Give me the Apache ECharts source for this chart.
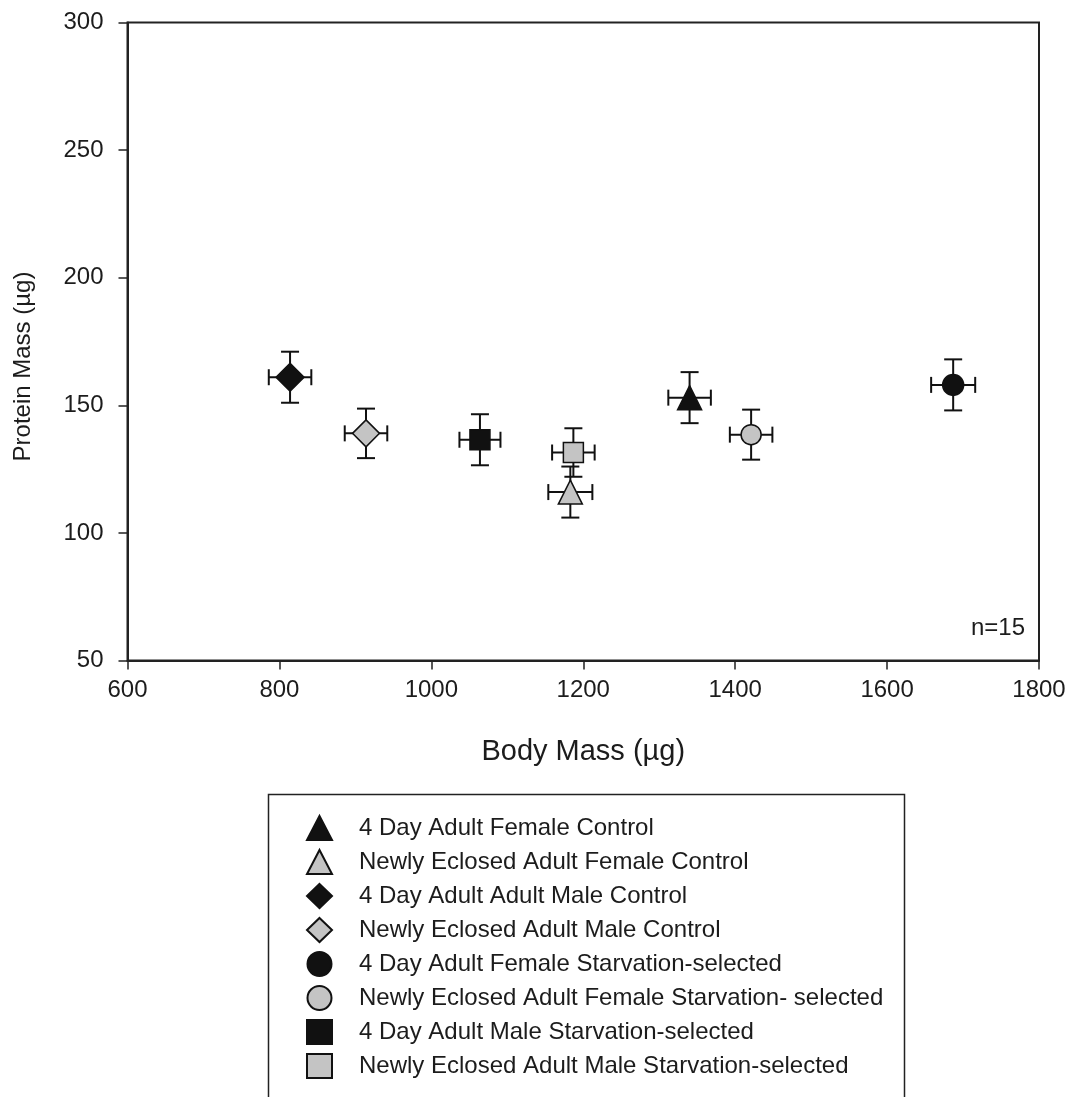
<!DOCTYPE html>
<html>
<head>
<meta charset="utf-8">
<title>Protein Mass vs Body Mass</title>
<script src="https://cdn.jsdelivr.net/npm/echarts@6/dist/echarts.min.js"></script>
<style>
  html, body { margin: 0; padding: 0; background: #fff; }
  #chart { width: 1073px; height: 1097px; }
</style>
</head>
<body>
<div id="chart"></div>
<script>
// Group labels (legend order)
const groupNames = [
  '4 Day Adult Female Control',
  'Newly Eclosed Adult Female Control',
  '4 Day Adult Adult Male Control',
  'Newly Eclosed Adult Male Control',
  '4 Day Adult Female Starvation-selected',
  'Newly Eclosed Adult Female Starvation- selected',
  '4 Day Adult Male Starvation-selected',
  'Newly Eclosed Adult Male Starvation-selected'
];

// Means and error (± values) per group, in µg
const bodyMass       = [1340, 1183,  814,  914, 1687, 1421, 1064, 1187];
const bodyMassErr    = [  28,   29,   28,   28,   29,   28,   27,   28];
const proteinMass    = [ 153,  116,  161,  139,  158,  138.5, 136.5, 131.5];
const proteinMassErr = [  10,   10,   10,  9.7,   10,   9.8,   10,   9.5];

// Axis ticks
const xTicks = [600, 800, 1000, 1200, 1400, 1600, 1800];
const yTicks = [50, 100, 150, 200, 250, 300];

// Marker look for each group
const BLACK = '#111111';
const GREY = '#c4c4c4';
const markerStyle = [
  { symbol: 'triangle', size: 24, fill: BLACK },
  { symbol: 'triangle', size: 24, fill: GREY },
  { symbol: 'diamond',  size: 28, fill: BLACK },
  { symbol: 'diamond',  size: 27, fill: GREY },
  { symbol: 'circle',   size: 21, fill: BLACK },
  { symbol: 'circle',   size: 20, fill: GREY },
  { symbol: 'rect',     size: 20, fill: BLACK },
  { symbol: 'rect',     size: 20, fill: GREY }
];

const FONT = '"Liberation Sans", Arial, sans-serif';
const TEXT = '#1c1c1c';

function errorBars(params, api) {
  const x = api.value(0), y = api.value(1), ex = api.value(2), ey = api.value(3);
  const left = api.coord([x - ex, y]);
  const right = api.coord([x + ex, y]);
  const top = api.coord([x, y + ey]);
  const bottom = api.coord([x, y - ey]);
  const capV = 9;   // half length of caps on the vertical bar
  const capH = 8;   // half length of caps on the horizontal bar
  const st = { stroke: '#111', lineWidth: 2, fill: null };
  const line = (x1, y1, x2, y2) => ({ type: 'line', shape: { x1, y1, x2, y2 }, style: st });
  return {
    type: 'group',
    children: [
      line(left[0], left[1], right[0], right[1]),
      line(top[0], top[1], bottom[0], bottom[1]),
      line(top[0] - capV, top[1], top[0] + capV, top[1]),
      line(bottom[0] - capV, bottom[1], bottom[0] + capV, bottom[1]),
      line(left[0], left[1] - capH, left[0], left[1] + capH),
      line(right[0], right[1] - capH, right[0], right[1] + capH)
    ]
  };
}

const series = [];
groupNames.forEach((name, i) => {
  series.push({
    name: name + ' (error)',
    type: 'custom',
    renderItem: errorBars,
    data: [[bodyMass[i], proteinMass[i], bodyMassErr[i], proteinMassErr[i]]],
    z: 2,
    silent: true
  });
  series.push({
    name: name,
    type: 'scatter',
    symbol: markerStyle[i].symbol,
    symbolSize: markerStyle[i].size,
    data: [[bodyMass[i], proteinMass[i]]],
    itemStyle: { color: markerStyle[i].fill, borderColor: '#111', borderWidth: 1.5, opacity: 1 },
    z: 3
  });
});

const chart = echarts.init(document.getElementById('chart'), null, { renderer: 'canvas' });
chart.setOption({
  animation: false,
  backgroundColor: '#ffffff',
  grid: {
    left: 127.5, right: 34, top: 22.5, bottom: 436.5,
    show: true, borderColor: '#222', borderWidth: 2, backgroundColor: 'transparent'
  },
  xAxis: {
    type: 'value',
    min: xTicks[0], max: xTicks[xTicks.length - 1], interval: 200,
    name: 'Body Mass (µg)',
    nameLocation: 'middle',
    nameGap: 77,
    nameTextStyle: { fontFamily: FONT, fontSize: 29, color: TEXT },
    axisLine: { show: true, onZero: false, lineStyle: { color: '#222', width: 2 } },
    axisTick: { show: true, inside: false, length: 9, lineStyle: { color: '#222', width: 1.5 } },
    axisLabel: { margin: 18, fontFamily: FONT, fontSize: 24, color: TEXT, formatter: v => String(v) },
    splitLine: { show: false }
  },
  yAxis: {
    type: 'value',
    min: yTicks[0], max: yTicks[yTicks.length - 1], interval: 50,
    name: 'Protein Mass (µg)',
    nameLocation: 'middle',
    nameGap: 92,
    nameTextStyle: { fontFamily: FONT, fontSize: 24, color: TEXT, padding: [0, 50, 0, 0] },
    axisLine: { show: true, onZero: false, lineStyle: { color: '#222', width: 2 } },
    axisTick: { show: true, inside: false, length: 9, lineStyle: { color: '#222', width: 1.5 } },
    axisLabel: { margin: 24, fontFamily: FONT, fontSize: 24, color: TEXT },
    splitLine: { show: false }
  },
  legend: {
    data: groupNames,
    orient: 'vertical',
    left: 306,
    top: 815,
    padding: 0,
    itemWidth: 25,
    itemHeight: 24,
    itemGap: 8,
    selectedMode: false,
    textStyle: { fontFamily: FONT, fontSize: 24, color: TEXT, padding: [0, 0, 0, 22] }
  },
  graphic: [
    {
      type: 'rect',
      shape: { x: 268.5, y: 794.5, width: 636, height: 340 },
      style: { fill: 'none', stroke: '#222', lineWidth: 1.5 },
      silent: true
    },
    {
      type: 'text',
      x: 1025, y: 628,
      style: { text: 'n=15', fontFamily: FONT, fontSize: 24, fill: TEXT, align: 'right', verticalAlign: 'middle' },
      silent: true
    }
  ],
  series: series
});
</script>
</body>
</html>
